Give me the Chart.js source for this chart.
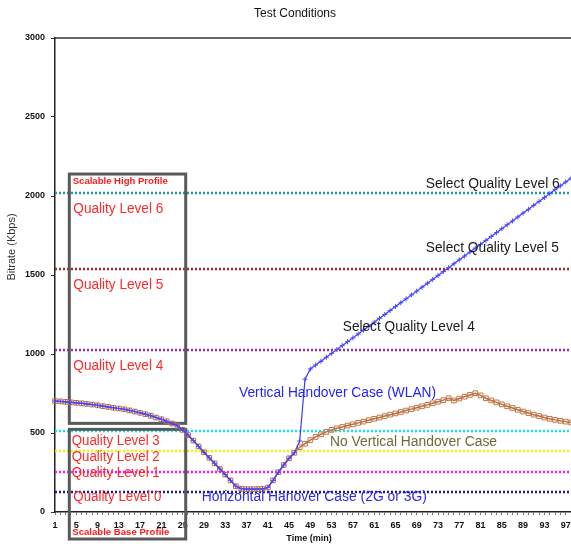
<!DOCTYPE html>
<html><head><meta charset="utf-8">
<script src="https://cdn.jsdelivr.net/npm/chart.js@4/dist/chart.umd.min.js"></script>
<style>html,body{margin:0;padding:0;background:#fff;}canvas{display:block}</style>
</head><body>
<canvas id="c" width="571" height="546"></canvas>
<script>
const categories = [1,2,3,4,5,6,7,8,9,10,11,12,13,14,15,16,17,18,19,20,21,22,23,24,25,26,27,28,29,30,31,32,33,34,35,36,37,38,39,40,41,42,43,44,45,46,47,48,49,50,51,52,53,54,55,56,57,58,59,60,61,62,63,64,65,66,67,68,69,70,71,72,73,74,75,76,77,78,79,80,81,82,83,84,85,86,87,88,89,90,91,92,93,94,95,96,97,98];
const tickLabels = [1,5,9,13,17,21,25,29,33,37,41,45,49,53,57,61,65,69,73,77,81,85,89,93,97];
const noHandover = [702,700,697,694,691,688,684,680,675,670,665,660,655,650,643,636,628,619,609,598,587,574,560,545,520,487,452,415,378,343,308,272,237,200,163,148,145,145,145,146,155,200,252,297,340,375,410,432,455,475,492,507,520,530,538,547,555,564,572,581,590,598,607,616,624,633,642,651,660,669,678,688,698,708,720,706,718,730,741,752,738,720,706,694,681,669,658,647,636,626,616,607,598,590,583,577,572,567];
const wlanHandover = [702,700,697,694,691,688,684,680,675,670,665,660,655,650,643,636,628,619,609,598,587,574,560,545,520,487,452,415,378,343,308,272,237,200,163,148,145,145,145,146,155,200,252,297,340,375,450,840,905,930,954,979,1004,1028,1053,1078,1102,1127,1152,1176,1201,1226,1250,1275,1300,1324,1349,1374,1398,1423,1448,1472,1497,1522,1546,1571,1596,1620,1645,1670,1694,1719,1744,1768,1793,1818,1842,1867,1892,1916,1941,1966,1990,2015,2040,2064,2089,2113];
const levelValues = [2020,1536,1024,512,384,256,128];
const yTicks = [0,500,1000,1500,2000,2500,3000];

const levelColors = ['#1f9c9c','#a8202c','#9a2aa6','#10e8f0','#f2f200','#ff10ff','#1a1a88'];
const FONT = '"Liberation Sans", Arial, sans-serif';

// boxes in data coords: [idxFrom, idxTo, valueTop, valueBottom]
const boxes = [[2.69,24.57,2139,561],[2.69,24.57,523,-171]];
// texts in data coords
const notes = [
 {t:'Scalable High Profile', i:3.33, v:2089, w:95, f:'bold 9px', c:'#ff1a1a'},
 {t:'Quality Level 6', i:3.44, v:1918, w:90, f:'14px', c:'#ff2a2a'},
 {t:'Quality Level 5', i:3.44, v:1437, w:90, f:'14px', c:'#ff2a2a'},
 {t:'Quality Level 4', i:3.44, v:920, w:90, f:'14px', c:'#ff2a2a'},
 {t:'Quality Level 3', i:3.14, v:449, w:88, f:'14px', c:'#ff2a2a'},
 {t:'Quality Level 2', i:3.14, v:350, w:88, f:'14px', c:'#ff2a2a'},
 {t:'Quality Level 1', i:3.14, v:249, w:88, f:'14px', c:'#ff2a2a'},
 {t:'Quality Level 0', i:3.44, v:97, w:88, f:'14px', c:'#ff2a2a'},
 {t:'Scalable Base Profile', i:3.25, v:-131, w:97, f:'bold 9px', c:'#ff1a1a'},
 {t:'Select Quality Level 6', i:69.7, v:2076, w:134, f:'14px', c:'#1a1a1a'},
 {t:'Select Quality Level 5', i:69.7, v:1669, w:133, f:'14px', c:'#1a1a1a'},
 {t:'Select Quality Level 4', i:54.1, v:1173, w:132, f:'14px', c:'#1a1a1a'},
 {t:'Vertical Handover Case (WLAN)', i:34.6, v:755, w:197, f:'14px', c:'#2323ff'},
 {t:'No Vertical Handover Case', i:51.7, v:445, w:167, f:'14px', c:'#6b6b35'},
 {t:'Horizontal Hanover Case (2G or 3G)', i:27.6, v:93, w:225, f:'14px', c:'#2a2af2'}
];

function fitText(ctx, t, x, y, w){
  const m = ctx.measureText(t).width;
  ctx.save(); ctx.translate(x,y); ctx.scale(w/m,1); ctx.fillText(t,0,0); ctx.restore();
}

const overlay = {
  id:'overlay',
  beforeDatasetsDraw(chart){
    const {ctx, chartArea:a, scales:{x,y}} = chart;
    ctx.save();
    ctx.setLineDash([2,2]); ctx.lineWidth = 2.5;
    levelValues.forEach((v,k)=>{
      const py = Math.round(y.getPixelForValue(v));
      ctx.strokeStyle = levelColors[k];
      ctx.beginPath(); ctx.moveTo(a.left, py); ctx.lineTo(a.right, py); ctx.stroke();
    });
    ctx.setLineDash([]);
    ctx.strokeStyle = '#333'; ctx.lineWidth = 1.5;
    ctx.beginPath(); ctx.moveTo(a.left, a.top); ctx.lineTo(a.right, a.top); ctx.stroke();
    ctx.strokeStyle = '#5a5a5a'; ctx.lineWidth = 3;
    boxes.forEach(b=>{
      const x0 = x.getPixelForValue(b[0]), x1 = x.getPixelForValue(b[1]);
      const y0 = y.getPixelForValue(b[2]), y1 = y.getPixelForValue(b[3]);
      ctx.strokeRect(x0, y0, x1-x0, y1-y0);
    });
    ctx.restore();
  },
  afterDatasetsDraw(chart){
    const {ctx, scales:{x,y}} = chart;
    ctx.save();
    ctx.textBaseline = 'middle'; ctx.textAlign = 'left';
    notes.forEach(n=>{
      ctx.font = n.f + ' ' + FONT; ctx.fillStyle = n.c;
      fitText(ctx, n.t, x.getPixelForValue(n.i), y.getPixelForValue(n.v), n.w);
    });
    ctx.restore();
  },
  afterDraw(chart){
    const {ctx} = chart;
    ctx.save();
    ctx.fillStyle = '#111'; ctx.textAlign = 'center'; ctx.textBaseline = 'middle';
    ctx.font = '12px ' + FONT;
    ctx.fillText('Test Conditions', 295, 14);
    ctx.font = 'bold 9px ' + FONT;
    ctx.fillText('Time (min)', 309, 539);
    ctx.translate(12, 247); ctx.rotate(-Math.PI/2);
    ctx.fillStyle = '#333'; ctx.font = '11px ' + FONT;
    ctx.fillText('Bitrate (Kbps)', 0, 0);
    ctx.restore();
  }
};

new Chart(document.getElementById('c'), {
  type:'line',
  data:{
    labels: categories,
    datasets:[
      {label:'Vertical Handover Case (WLAN)', data: wlanHandover, order:1,
       borderColor:'#3a3aff', borderWidth:1.2, pointStyle:'cross', pointRadius:2.5,
       pointBorderColor:'#4a4aff', pointBorderWidth:1, pointBackgroundColor:'#4a4aff', tension:0},
      {label:'No Vertical Handover Case', data: noHandover, order:2,
       borderColor:'#b07048', borderWidth:1.5, pointStyle:'rect', pointRadius:3.3,
       pointBorderColor:'#c47440', pointBorderWidth:1, pointBackgroundColor:'rgba(255,255,255,0)', tension:0}
    ]
  },
  options:{
    responsive:false, animation:false, devicePixelRatio:1,
    layout:{autoPadding:false, padding:{top:38,left:0,right:0,bottom:0}},
    plugins:{legend:{display:false}, tooltip:{enabled:false}, title:{display:false}},
    scales:{
      x:{
        afterFit(s){ s.height = 34; s.paddingRight = 0; s.paddingLeft = 0; },
        grid:{drawOnChartArea:false, drawTicks:true, tickLength:3, color:'#777'},
        border:{display:true, color:'#222', width:1.5},
        ticks:{autoSkip:false, maxRotation:0, minRotation:0, padding:5, color:'#111',
          font:{family:FONT, size:9, weight:'bold'},
          callback(v,i){ return tickLabels.includes(categories[i]) ? String(categories[i]) : ''; }}
      },
      y:{
        min:0, max:3000,
        afterFit(s){ s.width = 55; s.paddingTop = 0; s.paddingBottom = 0; },
        afterBuildTicks(s){ s.ticks = yTicks.map(v=>({value:v})); },
        grid:{drawOnChartArea:false, drawTicks:true, tickLength:4, color:'#333'},
        border:{display:true, color:'#222', width:1.5},
        ticks:{padding:6, color:'#111', font:{family:FONT, size:9, weight:'bold'},
          callback(v){ return String(v); }}
      }
    }
  },
  plugins:[overlay]
});
</script>
</body></html>
